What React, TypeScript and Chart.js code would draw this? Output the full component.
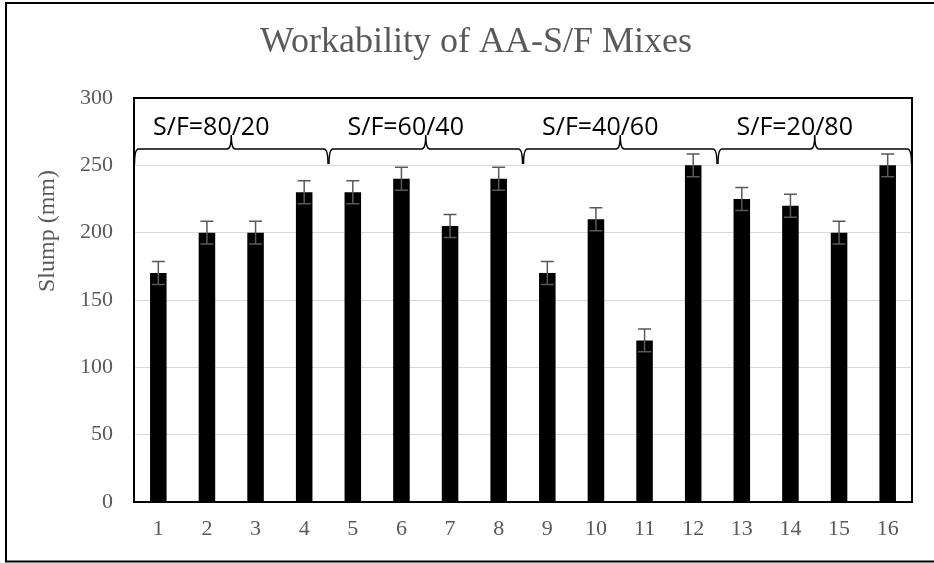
import React, { useEffect, useRef } from "react";
import { Chart, registerables } from "chart.js";

Chart.register(...registerables);

const categories = ["1", "2", "3", "4", "5", "6", "7", "8", "9", "10", "11", "12", "13", "14", "15", "16"];
const slump = [170, 200, 200, 230, 230, 240, 205, 240, 170, 210, 120, 250, 225, 220, 200, 250];
const slumpError = [8.5, 8.5, 8.5, 8.5, 8.5, 8.5, 8.5, 8.5, 8.5, 8.5, 8.5, 8.5, 8.5, 8.5, 8.5, 8.5];
const groupLabels = ["S/F=80/20", "S/F=60/40", "S/F=40/60", "S/F=20/80"];
const groupSize = 4;
const yMin = 0;
const yMax = 300;
const yStep = 50;
const chartTitle = "Workability of AA-S/F Mixes";
const yAxisTitle = "Slump (mm)";

const SERIF = "'Liberation Serif', 'Times New Roman', serif";
const SANS = "'Open Sans', 'Liberation Sans', sans-serif";
const GRAY = "#595959";

const decorPlugin = {
  id: "decor",
  beforeDraw(chart: any) {
    const ctx = chart.ctx;
    ctx.save();
    ctx.fillStyle = "#ffffff";
    ctx.fillRect(0, 0, chart.width, chart.height);
    ctx.strokeStyle = "#000000";
    ctx.lineWidth = 2;
    ctx.strokeRect(6, 3, 940, 558.5);
    ctx.restore();
  },
  afterDatasetsDraw(chart: any) {
    const ctx = chart.ctx;
    const ca = chart.chartArea;
    const xs = chart.scales.x;
    const ys = chart.scales.y;
    const meta = chart.getDatasetMeta(0);

    // error bars
    ctx.save();
    ctx.strokeStyle = GRAY;
    ctx.lineWidth = 1.5;
    meta.data.forEach((bar: any, i: number) => {
      const v = slump[i];
      const e = slumpError[i];
      const yTop = ys.getPixelForValue(v + e);
      const yBot = ys.getPixelForValue(v - e);
      const x = bar.x;
      const cap = 6.5;
      ctx.beginPath();
      ctx.moveTo(x, yTop);
      ctx.lineTo(x, yBot);
      ctx.moveTo(x - cap, yTop);
      ctx.lineTo(x + cap, yTop);
      ctx.moveTo(x - cap, yBot);
      ctx.lineTo(x + cap, yBot);
      ctx.stroke();
    });
    ctx.restore();

    // plot area border
    ctx.save();
    ctx.strokeStyle = "#000000";
    ctx.lineWidth = 2;
    ctx.strokeRect(ca.left, ca.top, ca.right - ca.left, ca.bottom - ca.top);
    ctx.restore();

    // braces and group labels
    const catW = (ca.right - ca.left) / categories.length;
    const yLine = ca.top + 51;
    const yEnd = ca.top + 66;
    const yTip = ca.top + 37;
    const r = 4;
    ctx.save();
    ctx.strokeStyle = "#000000";
    ctx.lineWidth = 1.5;
    groupLabels.forEach((label, g) => {
      const x0 = xs.getPixelForValue(g * groupSize) - catW / 2 + 0.5;
      const x1 = xs.getPixelForValue(g * groupSize + groupSize - 1) + catW / 2 - 0.5;
      const xm = (x0 + x1) / 2;
      ctx.beginPath();
      ctx.moveTo(x0, yEnd);
      ctx.quadraticCurveTo(x0, yLine, x0 + r, yLine);
      ctx.lineTo(xm - r, yLine);
      ctx.quadraticCurveTo(xm, yLine, xm, yTip);
      ctx.quadraticCurveTo(xm, yLine, xm + r, yLine);
      ctx.lineTo(x1 - r, yLine);
      ctx.quadraticCurveTo(x1, yLine, x1, yEnd);
      ctx.stroke();

      ctx.fillStyle = "#000000";
      ctx.font = `25px ${SANS}`;
      ctx.textAlign = "center";
      ctx.textBaseline = "alphabetic";
      ctx.fillText(label, xm - 20, ca.top + 37);
    });
    ctx.restore();

    // title
    ctx.save();
    ctx.fillStyle = GRAY;
    ctx.font = `36px ${SERIF}`;
    ctx.textAlign = "center";
    ctx.textBaseline = "alphabetic";
    ctx.fillText(chartTitle, 476, 52);
    ctx.restore();

    // y axis title
    ctx.save();
    ctx.fillStyle = GRAY;
    ctx.font = `24px ${SERIF}`;
    ctx.translate(48, 231);
    ctx.rotate(-Math.PI / 2);
    ctx.textAlign = "center";
    ctx.textBaseline = "middle";
    ctx.fillText(yAxisTitle, 0, 0);
    ctx.restore();
  },
};

export default function App() {
  const canvasRef = useRef<HTMLCanvasElement | null>(null);

  useEffect(() => {
    const canvas = canvasRef.current;
    if (!canvas) return;
    const chart = new Chart(canvas, {
      type: "bar",
      data: {
        labels: categories,
        datasets: [
          {
            data: slump,
            backgroundColor: "#000000",
            borderWidth: 0,
            barPercentage: 0.34,
            categoryPercentage: 1,
          },
        ],
      },
      options: {
        responsive: false,
        animation: false,
        devicePixelRatio: 1,
        layout: { padding: { top: 98, right: 22, left: 0, bottom: 0 } },
        plugins: {
          legend: { display: false },
          title: { display: false },
          tooltip: { enabled: false },
        },
        scales: {
          x: {
            grid: { display: false, drawTicks: false },
            border: { display: false },
            ticks: {
              color: GRAY,
              font: { family: SERIF, size: 22 },
              padding: 14,
              maxRotation: 0,
              autoSkip: false,
            },
            afterFit: (scale: any) => {
              scale.height = 61;
            },
          },
          y: {
            min: yMin,
            max: yMax,
            grid: { color: "#d9d9d9", lineWidth: 1, drawTicks: false },
            border: { display: false },
            ticks: {
              stepSize: yStep,
              color: GRAY,
              font: { family: SERIF, size: 22 },
              padding: 21,
            },
            afterFit: (scale: any) => {
              scale.width = 134;
            },
          },
        },
      },
      plugins: [decorPlugin],
    });
    return () => chart.destroy();
  }, []);

  return (
    <div style={{ position: "absolute", left: 0, top: 0, width: 934, height: 563 }}>
      <canvas ref={canvasRef} width={934} height={563} style={{ width: 934, height: 563, display: "block" }} />
    </div>
  );
}
